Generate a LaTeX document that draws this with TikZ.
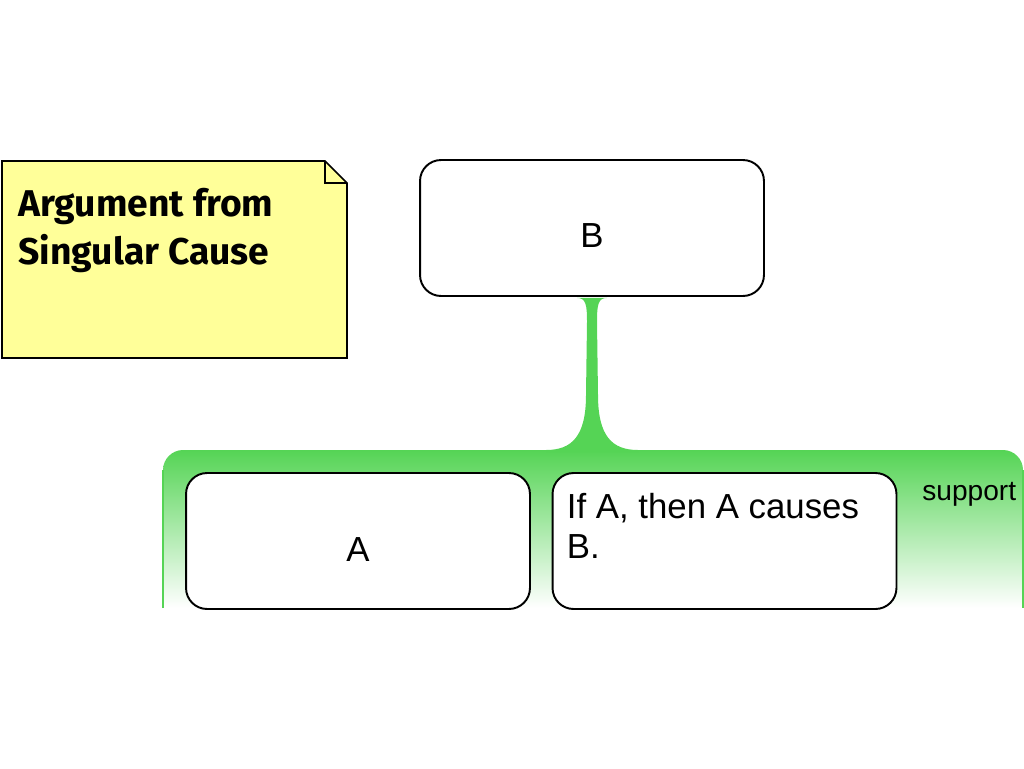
\documentclass[tikz,border=0pt]{standalone}
\usepackage{fontspec}
\usetikzlibrary{calc}
\newfontfamily\boxfont{Liberation Sans}
\newfontfamily\notefont{Fira Sans}
\definecolor{notefill}{HTML}{FFFF99}
\definecolor{supgreen}{HTML}{55D455}
\tikzset{
  claim/.style={draw, fill=white, line width=1.1pt, rounded corners=0.42cm,
    minimum width=6.88cm, minimum height=2.72cm, inner sep=0pt},
  claimtext/.style={font=\boxfont\fontsize{19.8}{22.7}\selectfont, inner sep=0pt},
}
\begin{document}
\begin{tikzpicture}[x=0.02cm, y=-0.02cm]
  \useasboundingbox (0,0) rectangle (1024,768);

  %% note in the upper left corner, with its folded corner
  \draw[fill=notefill, line width=1pt] (2,161) -- (325,161) -- (347,183) -- (347,358) -- (2,358) -- cycle;
  \draw[line width=1pt] (325,161) -- (325,183) -- (347,183);
  \node[anchor=north west, align=left, inner sep=0pt,
    font=\notefont\bfseries\fontsize{21.2}{27.2}\selectfont] (title) at (18,188) {Argument from\\Singular Cause};

  %% green support region, fading out to white at the bottom
  \shade[top color=supgreen, bottom color=white] (163,608) -- (163,470) .. controls (163,459) and (172,450) .. (183,450)
    -- (1003,450) .. controls (1014,450) and (1023,459) .. (1023,470) -- (1023,608) -- cycle;
  \draw[supgreen, line width=0.6pt] (163,608) -- (163,470) (1023,470) -- (1023,608);
  \coordinate (sup) at (592,450);

  \node[claim] (B) at (592,228) {};

  %% the link from B down to the support region
  \fill[supgreen] ($(B.south)+(-15,1)$) .. controls ($(B.south)+(-6,1)$) and ($(B.south)+(-5,8)$) .. ($(B.south)+(-5,25)$)
    -- ($(sup)+(-6,-55)$) .. controls ($(sup)+(-6,-14)$) and ($(sup)+(-20,0)$) .. ($(sup)+(-46,0)$)
    -- ($(sup)+(-46,2)$) -- ($(sup)+(46,2)$) -- ($(sup)+(46,0)$)
    .. controls ($(sup)+(20,0)$) and ($(sup)+(6,-14)$) .. ($(sup)+(6,-55)$)
    -- ($(B.south)+(5,25)$) .. controls ($(B.south)+(5,8)$) and ($(B.south)+(6,1)$) .. ($(B.south)+(15,1)$) -- cycle;

  \node[claim] (A) at (358,541) {};
  \node[claim] (AB) at (724.5,541) {};

  \node[claimtext] (Btext) at ($(B.center)+(0,8)$) {B};
  \node[claimtext] (Atext) at ($(A.center)+(0,9)$) {A};
  \node[claimtext, anchor=north west, align=left] (ABtext) at ($(AB.north west)+(15,21)$) {If A, then A causes\\B.};
  \node[anchor=base west, inner sep=0pt, font=\boxfont\fontsize{16}{19}\selectfont] (suplabel) at (922,500) {support};
\end{tikzpicture}
\end{document}
